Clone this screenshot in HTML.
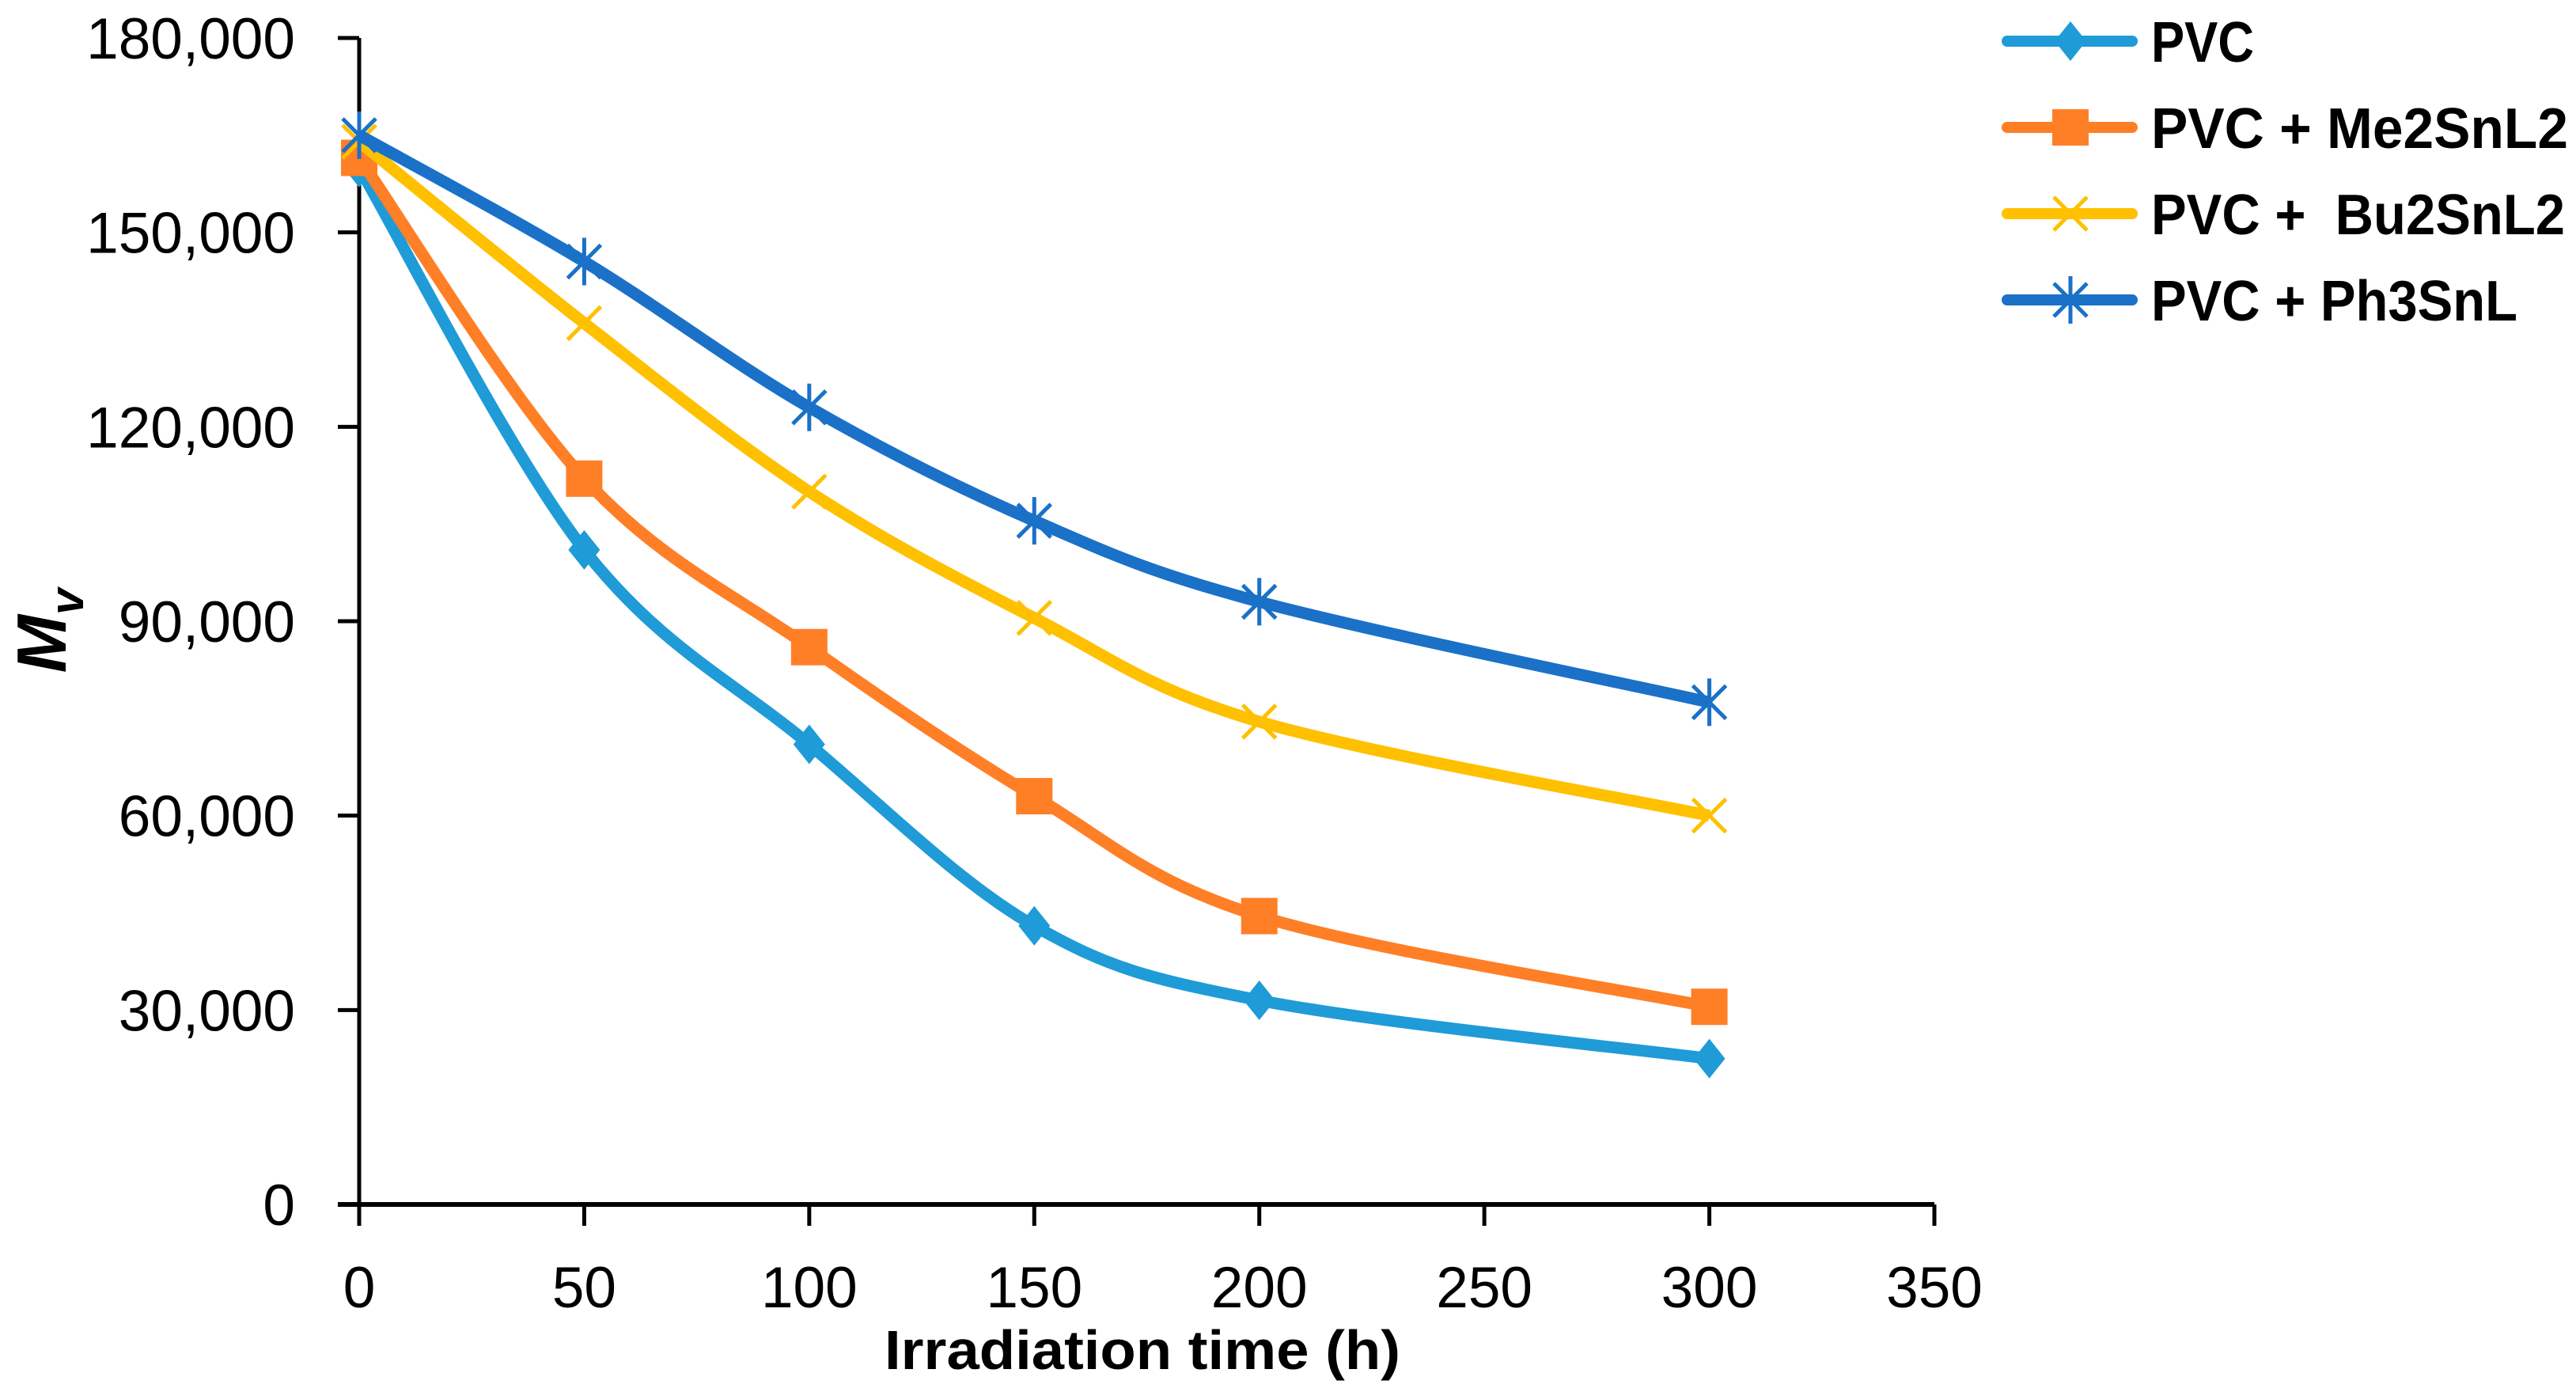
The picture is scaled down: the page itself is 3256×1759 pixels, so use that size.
<!DOCTYPE html>
<html><head><meta charset="utf-8"><style>
html,body{margin:0;padding:0;background:#fff;}
svg{display:block;font-family:"Liberation Sans",sans-serif;}
</style></head><body>
<svg id="chart" width="3256" height="1759" viewBox="0 0 3256 1759" xmlns="http://www.w3.org/2000/svg">
<rect width="3256" height="1759" fill="#fff"/>
<g id="axes"></g>
<g id="series"></g>
<g id="legend"></g>
<text x="1444" y="1730" text-anchor="middle" font-weight="bold" font-size="70" textLength="652" lengthAdjust="spacingAndGlyphs">Irradiation time (h)</text>
<g transform="translate(83,797) rotate(-90)">
<text text-anchor="middle" font-weight="bold" font-style="italic" font-size="88">M<tspan font-size="60" dy="22">v</tspan></text>
</g>
</svg>
<script>
const xCategories = [0, 50, 100, 150, 200, 300];
const seriesNames = ["PVC", "PVC + Me2SnL2", "PVC +  Bu2SnL2", "PVC + Ph3SnL"];
const pvcValues = [160000, 101000, 71000, 43000, 31500, 22500];
const me2Values = [161500, 112000, 86000, 63000, 44500, 30500];
const bu2Values = [164000, 136000, 110000, 90500, 74500, 60000];
const ph3Values = [165000, 145500, 123000, 105500, 93000, 77500];
const xTicks = [0, 50, 100, 150, 200, 250, 300, 350];
const yTicks = [0, 30000, 60000, 90000, 120000, 150000, 180000];
const yTickLabels = ["0", "30,000", "60,000", "90,000", "120,000", "150,000", "180,000"];

const NS = "http://www.w3.org/2000/svg";
const X0 = 454, X1 = 2445, Y0 = 1522, YT = 48;
function xs(v){ return X0 + (v - 0) / 350 * (X1 - X0); }
function ys(v){ return Y0 - v / 180000 * (Y0 - YT); }
function mk(tag, attrs, parent){
  const e = document.createElementNS(NS, tag);
  for (const k in attrs) e.setAttribute(k, attrs[k]);
  parent.appendChild(e);
  return e;
}
const axes = document.getElementById('axes');
let yl = mk('line', {x1:X0, y1:YT, x2:X0, y2:Y0, stroke:'#000', 'stroke-width':5}, axes);


yTicks.forEach((v, i) => {
  const t = mk('line', {x1:X0-27, y1:ys(v), x2:X0, y2:ys(v), stroke:'#000', 'stroke-width':5}, axes);
  
  
  const l = mk('text', {x:373, y:ys(v)+26, 'text-anchor':'end', 'font-size':73}, axes);
  l.textContent = yTickLabels[i];
  
  
});
let xl = mk('line', {x1:X0-27, y1:Y0, x2:X1, y2:Y0, stroke:'#000', 'stroke-width':6}, axes);


xTicks.forEach(v => {
  const t = mk('line', {x1:xs(v), y1:Y0, x2:xs(v), y2:Y0+27, stroke:'#000', 'stroke-width':5}, axes);
  
  
  const l = mk('text', {x:xs(v), y:1652, 'text-anchor':'middle', 'font-size':73}, axes);
  l.textContent = String(v);
  
  
});

const colors = ["#1F9BD7", "#FF7F27", "#FFC000", "#1A71C7"];
const markers = ["diamond", "square", "x", "star"];
const allValues = [pvcValues, me2Values, bu2Values, ph3Values];

function smoothPath(pts){
  let d = `M${pts[0][0]},${pts[0][1]}`;
  for (let i = 0; i < pts.length - 1; i++){
    const p0 = pts[i-1] || pts[i], p1 = pts[i], p2 = pts[i+1], p3 = pts[i+2] || p2;
    const t = 1/6;
    const c1 = [p1[0] + (p2[0]-p0[0])*t, p1[1] + (p2[1]-p0[1])*t];
    const c2 = [p2[0] - (p3[0]-p1[0])*t, p2[1] - (p3[1]-p1[1])*t];
    d += ` C${c1[0]},${c1[1]} ${c2[0]},${c2[1]} ${p2[0]},${p2[1]}`;
  }
  return d;
}
function drawMarker(type, x, y, color, parent){
  const g = mk('g', {}, parent);
  if (type === 'diamond'){
    mk('polygon', {points:`${x},${y-25} ${x+20},${y} ${x},${y+25} ${x-20},${y}`, fill:color}, g);
  } else if (type === 'square'){
    mk('rect', {x:x-23, y:y-23, width:46, height:46, fill:color}, g);
  } else if (type === 'x'){
    mk('path', {d:`M${x-21},${y-21}L${x+21},${y+21}M${x+21},${y-21}L${x-21},${y+21}`, stroke:color, 'stroke-width':5}, g);
  } else {
    mk('path', {d:`M${x-21},${y-21}L${x+21},${y+21}M${x+21},${y-21}L${x-21},${y+21}M${x},${y-30}L${x},${y+30}`, stroke:color, 'stroke-width':5}, g);
  }
  return g;
}
const series = document.getElementById('series');
allValues.forEach((vals, si) => {
  const g = mk('g', {}, series);
  
  
  const pts = vals.map((v, i) => [xs(xCategories[i]), ys(v)]);
  const p = mk('path', {d:smoothPath(pts), fill:'none', stroke:colors[si], 'stroke-width':15, 'stroke-linejoin':'round'}, g);
  
  
  pts.forEach(pt => {
    const m = drawMarker(markers[si], pt[0], pt[1], colors[si], g);
    
    
  });
});
const legend = document.getElementById('legend');
const legendY = [52, 161, 270, 379];
const legendTextLen = [130, 527, 523, 463];
seriesNames.forEach((name, i) => {
  const g = mk('g', {}, legend);
  
  
  const y = legendY[i];
  mk('line', {x1:2537, y1:y, x2:2695, y2:y, stroke:colors[i], 'stroke-width':14, 'stroke-linecap':'round'}, g);
  drawMarker(markers[i], 2617, y, colors[i], g);
  const t = mk('text', {x:2719, y:y+26, 'font-size':72, 'font-weight':'bold', style:'white-space:pre', textLength:legendTextLen[i], lengthAdjust:'spacingAndGlyphs'}, g);
  t.textContent = name;
});
</script>
</body></html>
